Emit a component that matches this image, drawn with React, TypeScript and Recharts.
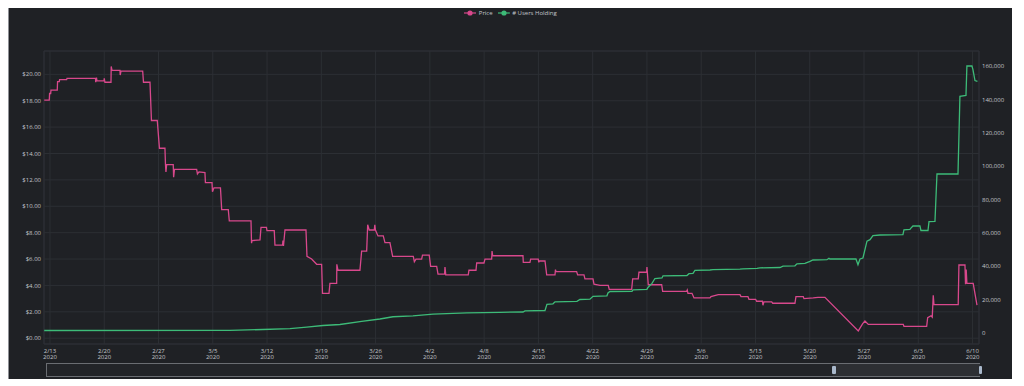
import React from "react";
import {
  LineChart,
  Line,
  XAxis,
  YAxis,
  CartesianGrid,
  Legend,
  ReferenceArea,
} from "recharts";

// x values are days since 2/13/2020 (tick spacing = 7 days)
const xTicks = [0, 7, 14, 21, 28, 35, 42, 49, 56, 63, 70, 77, 84, 91, 98, 105, 112, 119];
const xTickLabels = ["2/13", "2/20", "2/27", "3/5", "3/12", "3/19", "3/26", "4/2", "4/8", "4/15", "4/22", "4/29", "5/6", "5/13", "5/20", "5/27", "6/3", "6/10"];
const xTickYear = "2020";
const xDomain = [-0.77, 119.83];

const priceTicks = [0, 2, 4, 6, 8, 10, 12, 14, 16, 18, 20];
const priceDomain = [-0.44, 21.77];
const userTicks = [0, 20000, 40000, 60000, 80000, 100000, 120000, 140000, 160000];
const userDomain = [-6600, 169200];

// [day, price in $]
const priceSeries: [number, number][] = [
  [-0.74, 18.05], [-0.09, 18.05], [-0.05, 18.55], [0.09, 18.55], [0.13, 18.8], [0.94, 18.8],
  [0.98, 19.45], [1.2, 19.45], [1.24, 19.6], [2.15, 19.6], [2.2, 19.7], [5.87, 19.7],
  [5.9, 19.4], [6.0, 19.75], [6.06, 19.5], [6.97, 19.5], [7.0, 19.7], [7.09, 19.4],
  [7.87, 19.4], [7.9, 20.6], [8.0, 20.3], [9.03, 20.3], [9.06, 19.95], [9.16, 20.25],
  [11.96, 20.25], [12.06, 19.4], [12.9, 19.4], [13.09, 16.5], [13.84, 16.5], [14.12, 14.4],
  [14.83, 14.4], [14.9, 13.15], [14.96, 12.6], [15.05, 13.15], [15.9, 13.15], [15.95, 12.2],
  [16.06, 12.8], [18.92, 12.8], [19.02, 12.45], [19.22, 12.6], [19.99, 12.55], [20.05, 11.8],
  [20.9, 11.8], [20.96, 11.1], [21.15, 11.4], [21.99, 11.4], [22.15, 9.75], [23.0, 9.75],
  [23.13, 8.9], [25.93, 8.9], [26.0, 7.2], [26.06, 7.4], [27.09, 7.45], [27.22, 8.4],
  [27.92, 8.4], [27.99, 8.15], [28.93, 8.15], [29.02, 7.05], [30.0, 7.05], [30.05, 7.4],
  [30.12, 7.0], [30.31, 8.2], [33.02, 8.2], [33.15, 6.2], [33.75, 6.0], [34.4, 5.6],
  [35.04, 5.6], [35.15, 3.4], [35.99, 3.4], [36.11, 4.15], [36.98, 4.15], [37.0, 5.6],
  [37.15, 5.15], [39.98, 5.15], [40.2, 6.6], [40.85, 6.6], [40.98, 8.6], [41.18, 8.2],
  [41.83, 8.2], [41.9, 8.6], [41.98, 8.2], [42.31, 7.75], [42.99, 7.75], [43.21, 7.25],
  [43.85, 7.25], [44.2, 6.2], [46.86, 6.2], [47.0, 5.8], [47.21, 6.0], [47.94, 6.0],
  [48.05, 6.3], [48.92, 6.3], [49.1, 5.45], [49.88, 5.45], [50.05, 4.85], [50.9, 4.85],
  [50.95, 5.4], [51.05, 4.8], [53.95, 4.8], [54.04, 5.15], [54.95, 5.15], [55.04, 5.7],
  [55.98, 5.7], [56.11, 6.0], [56.97, 6.0], [57.02, 6.6], [57.1, 6.25], [61.01, 6.25],
  [61.05, 5.75], [61.91, 5.75], [62.0, 6.0], [62.98, 6.0], [63.05, 5.75], [63.11, 5.85],
  [63.85, 5.85], [64.07, 4.8], [65.14, 4.8], [65.2, 5.2], [65.27, 5.05], [67.93, 5.05],
  [68.06, 4.8], [68.88, 4.8], [69.0, 4.5], [70.04, 4.5], [70.17, 4.1], [70.94, 4.0],
  [72.01, 4.0], [72.14, 3.7], [75.03, 3.7], [75.16, 4.5], [75.88, 4.5], [75.97, 5.0],
  [76.96, 5.0], [77.0, 5.4], [77.17, 4.05], [78.9, 4.05], [79.03, 3.55], [82.12, 3.55],
  [82.2, 3.65], [82.29, 3.4], [82.81, 3.4], [83.07, 3.05], [85.13, 3.05], [85.26, 3.15],
  [86.2, 3.3], [89.0, 3.3], [89.13, 3.15], [90.03, 3.15], [90.16, 2.95], [91.02, 2.95],
  [91.15, 2.8], [91.9, 2.8], [91.96, 2.5], [92.09, 2.75], [93.09, 2.75], [93.22, 2.65],
  [96.09, 2.65], [96.22, 3.15], [97.16, 3.15], [97.25, 3.0], [98.45, 3.05], [99.06, 3.1],
  [99.96, 3.1], [104.26, 0.55], [104.83, 1.1], [105.12, 1.3], [105.55, 1.05], [110.06, 1.05],
  [110.15, 0.9], [113.08, 0.9], [113.21, 1.55], [113.64, 1.7], [113.8, 1.6], [113.93, 3.25],
  [114.02, 2.55], [117.15, 2.55], [117.24, 5.55], [118.02, 5.55], [118.09, 4.1], [118.18, 5.2],
  [118.27, 4.15], [119.08, 4.15], [119.57, 2.5],
];

// [day, users holding]
const userSeries: [number, number][] = [
  [-0.74, 1500], [23.22, 1600], [27.47, 2100], [30.96, 2600], [33.11, 3500], [35.21, 4500],
  [37.4, 5100], [40.2, 7000], [42.56, 8400], [44.24, 9750], [46.82, 10300], [49.4, 11300],
  [53.79, 12100], [58.04, 12400], [61.01, 12600], [61.27, 13300], [63.85, 13500], [64.1, 17200],
  [64.88, 17500], [65.14, 18700], [67.97, 19000], [68.36, 20100], [69.65, 20300], [70.04, 22000],
  [71.84, 22300], [71.97, 24000], [72.23, 24900], [75.07, 25000], [75.2, 25900], [77.0, 26200],
  [77.13, 27300], [77.65, 29800], [78.03, 32700], [78.94, 33000], [79.07, 34300], [82.16, 34500],
  [82.42, 35600], [82.94, 35800], [83.19, 37600], [85.13, 37800], [85.52, 38000], [89.0, 38300],
  [89.39, 38500], [91.2, 38800], [91.58, 39100], [94.16, 39300], [94.55, 40100], [96.09, 40300],
  [96.35, 41500], [97.38, 41800], [98.03, 43000], [98.41, 43800], [100.22, 44000], [100.48, 44800],
  [100.61, 44400], [103.96, 44400], [104.22, 40900], [104.48, 44400], [104.86, 45000], [105.38, 55100],
  [105.77, 56000], [106.15, 58400], [107.06, 58800], [110.02, 59000], [110.15, 61900], [110.92, 62200],
  [111.05, 62900], [111.31, 64200], [112.21, 64300], [112.34, 61500], [113.25, 61500], [113.38, 66800],
  [114.15, 67000], [114.41, 95400], [117.12, 95400], [117.37, 142000], [118.15, 142500], [118.27, 160200],
  [118.92, 160200], [119.05, 158000], [119.31, 151500], [119.63, 151000],
];

const priceData = priceSeries.map(([t, v]) => ({ t, price: v }));
const userData = userSeries.map(([t, v]) => ({ t, users: v }));

const PINK = "#d8488c";
const GREEN = "#3dbb78";
const BG = "#1f2125";
const GRID = "#2c2f34";
const TEXT = "#c3c6cb";
const FONT = "'Open Sans', 'DejaVu Sans', sans-serif";

const XTick = (props: any) => {
  const { x, y, payload } = props;
  const i = xTicks.indexOf(payload.value);
  return (
    <g transform={`translate(${x},${y})`}>
      <text textAnchor="middle" fill={TEXT} fontSize={6} fontFamily={FONT}>
        <tspan x={0} dy={8.5}>{xTickLabels[i]}</tspan>
        <tspan x={0} dy={6.5}>{xTickYear}</tspan>
      </text>
    </g>
  );
};

const LegendContent = (props: any) => {
  const { payload } = props;
  const items = [...(payload || [])].sort((a: any, b: any) =>
    String(a.dataKey).localeCompare(String(b.dataKey))
  );
  return (
    <div
      style={{
        display: "flex",
        justifyContent: "center",
        alignItems: "center",
        height: 8,
        fontFamily: FONT,
        fontSize: 6,
        color: TEXT,
        lineHeight: "8px",
      }}
    >
      {items.map((p: any, idx: number) => (
        <div key={idx} style={{ display: "flex", alignItems: "center", marginLeft: idx ? 5 : 0 }}>
          <svg width={12} height={8} style={{ display: "block" }}>
            <line x1={0} y1={4} x2={12} y2={4} stroke={p.color} strokeWidth={1.2} />
            <circle cx={6} cy={4} r={2.6} fill={p.color} />
          </svg>
          <span style={{ marginLeft: 2.5 }}>{p.value}</span>
        </div>
      ))}
    </div>
  );
};

export default function App() {
  const W = 1004;
  const H = 371;
  return (
    <div
      style={{
        position: "relative",
        width: W,
        height: H,
        background: BG,
        borderLeft: "1px solid #8f9196",
        boxSizing: "border-box",
      }}
    >
      <LineChart
        width={W - 1}
        height={H}
        margin={{ top: 35, right: 0, bottom: 0, left: -1 }}
        style={{ fontFamily: FONT }}
      >
        <CartesianGrid stroke={GRID} strokeWidth={1} yAxisId="left" />
        <XAxis
          dataKey="t"
          type="number"
          domain={xDomain}
          ticks={xTicks}
          allowDataOverflow
          height={35}
          tickLine={false}
          axisLine={false}
          tickSize={0}
          tickMargin={0}
          tick={<XTick />}
          interval={0}
        />
        <YAxis
          yAxisId="left"
          orientation="left"
          type="number"
          domain={priceDomain}
          ticks={priceTicks}
          allowDataOverflow
          width={36}
          tickLine={false}
          axisLine={false}
          tickSize={0}
          tickMargin={3}
          interval={0}
          tick={{ fill: TEXT, fontSize: 6, fontFamily: FONT }}
          tickFormatter={(v: number) => `$${v.toFixed(2)}`}
        />
        <YAxis
          yAxisId="right"
          orientation="right"
          type="number"
          domain={userDomain}
          ticks={userTicks}
          allowDataOverflow
          width={33}
          tickLine={false}
          axisLine={false}
          tickSize={0}
          tickMargin={3}
          interval={0}
          tick={{ fill: TEXT, fontSize: 6, fontFamily: FONT, textAnchor: "start" }}
          tickFormatter={(v: number) => v.toLocaleString("en-US")}
        />
        <ReferenceArea
          yAxisId="left"
          x1={xDomain[0]}
          x2={xDomain[1]}
          y1={priceDomain[0]}
          y2={priceDomain[1]}
          fill="none"
          stroke={GRID}
          strokeWidth={1}
          ifOverflow="visible"
        />
        <Legend
          layout="vertical"
          align="center"
          verticalAlign="top"
          itemSorter="dataKey"
          wrapperStyle={{ top: 1, left: 0, width: W - 1 }}
          content={<LegendContent />}
        />
        <Line
          yAxisId="left"
          data={priceData}
          dataKey="price"
          name="Price"
          type="linear"
          stroke={PINK}
          strokeWidth={1.3}
          dot={false}
          activeDot={false}
          isAnimationActive={false}
        />
        <Line
          yAxisId="right"
          data={userData}
          dataKey="users"
          name="# Users Holding"
          type="linear"
          stroke={GREEN}
          strokeWidth={1.3}
          dot={false}
          activeDot={false}
          isAnimationActive={false}
        />
      </LineChart>
      {/* scrollbar */}
      <div
        style={{
          position: "absolute",
          left: 37,
          top: 355,
          width: 934,
          height: 14,
          border: "1px solid #6a6d72",
          background: "#222428",
          boxSizing: "border-box",
        }}
      />
      <div
        style={{
          position: "absolute",
          left: 824,
          top: 356,
          width: 147,
          height: 12,
          background: "#2d2f33",
        }}
      />
      <div
        style={{
          position: "absolute",
          left: 823,
          top: 358,
          width: 3.5,
          height: 8,
          borderRadius: 1,
          background: "#a9b8cb",
        }}
      />
      <div
        style={{
          position: "absolute",
          left: 969.5,
          top: 358,
          width: 3.5,
          height: 8,
          borderRadius: 1,
          background: "#a9b8cb",
        }}
      />
    </div>
  );
}
